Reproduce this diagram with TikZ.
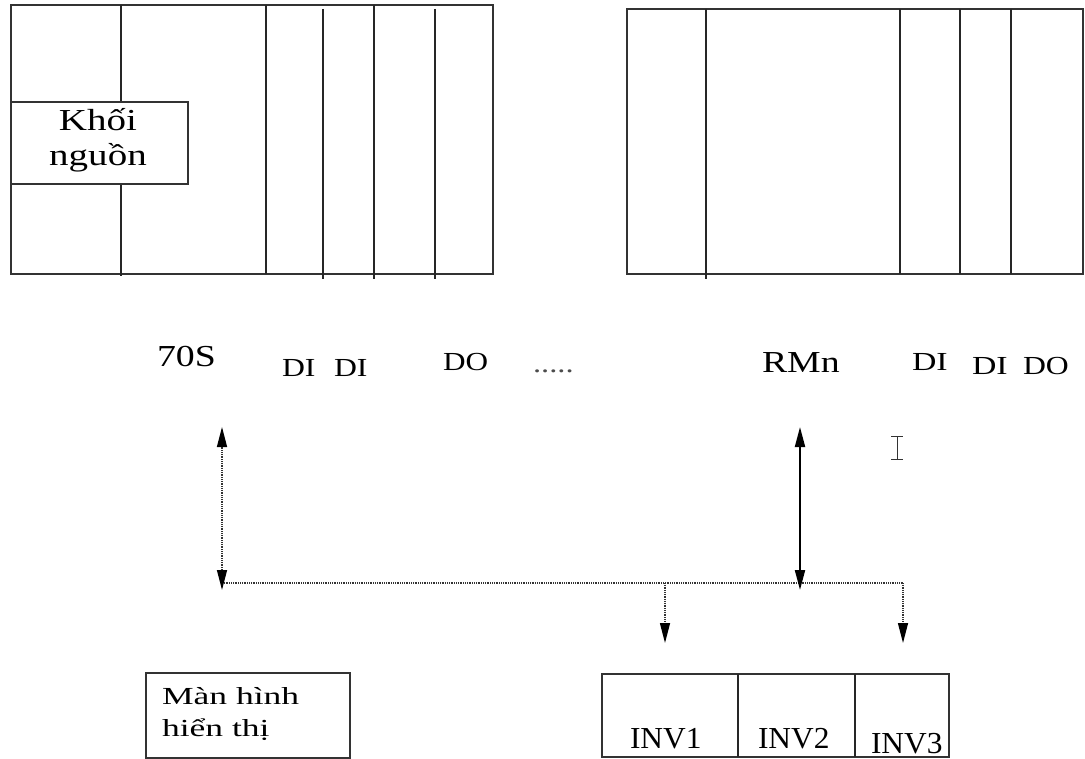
\documentclass[tikz,border=0pt]{standalone}
\usepackage{fontspec}
\setmainfont{Liberation Serif}
\usepackage{graphicx}
\usetikzlibrary{arrows.meta}

% horizontally widened text
\newcommand{\hwide}[2]{\scalebox{#1}[1]{#2}}

\tikzset{
  frame/.style={line width=1.5pt, draw=black!80},
  divider/.style={line width=1.5pt, draw=black!85},
  lbl/.style={inner sep=0pt, outer sep=0pt, anchor=base west, text=black},
  big/.style={font=\fontsize{30.5pt}{36pt}\selectfont},
  mid/.style={font=\fontsize{26pt}{32pt}\selectfont},
  busline/.style={line width=1.4pt, draw=black!80, dash pattern=on 1pt off 0.8pt},
  tiph/.style={{Triangle[length=20pt,width=10pt,color=black]}-{Triangle[length=20pt,width=10pt,color=black]}},
  tipe/.style={-{Triangle[length=20pt,width=10pt,color=black]}},
}

\begin{document}
\begin{tikzpicture}[x=1pt, y=-1pt]
\useasboundingbox[fill=white] (0,0) rectangle (1085,759);

% ---- left rack: power supply, CPU 70S and I/O modules ----
\draw[frame] (11,5) rectangle (493,274);
\draw[divider] (121,5) -- (121,102);
\draw[divider] (121,184) -- (121,276);
\draw[divider] (266,5) -- (266,274);
\draw[divider] (323,9) -- (323,279);
\draw[divider] (374,5) -- (374,279);
\draw[divider] (435,9) -- (435,279);
\draw[frame, fill=white] (11,102) rectangle (188,184);
\node[big, inner sep=0pt, anchor=base, align=center, text=black] (psu) at (98,166)
  {\hwide{1.28}{Khối}\\[-1pt]\hwide{1.28}{nguồn}};

% ---- right rack: remote module RMn and I/O modules ----
\draw[frame] (627,9) rectangle (1083,274);
\draw[divider] (706,9) -- (706,279);
\draw[divider] (900,9) -- (900,274);
\draw[divider] (960,9) -- (960,274);
\draw[divider] (1011,9) -- (1011,274);

% ---- module labels ----
\node[lbl, big] (l70s) at (157,367) {\hwide{1.24}{70S}};
\node[lbl, mid] (ldi1) at (282,377) {\hwide{1.22}{DI}};
\node[lbl, mid] (ldi2) at (334,377) {\hwide{1.22}{DI}};
\node[lbl, mid] (ldo)  at (443,371) {\hwide{1.2}{DO}};
\node[lbl, mid, text=black!70] (dots) at (533,373) {\hwide{1.25}{.....}};
\node[lbl, big] (lrmn) at (762,373) {\hwide{1.24}{RMn}};
\node[lbl, mid] (rdi1) at (912,371) {\hwide{1.3}{DI}};
\node[lbl, mid] (rdi2) at (972,375) {\hwide{1.3}{DI}};
\node[lbl, mid] (rdo)  at (1023,375) {\hwide{1.22}{DO}};

% text cursor mark
\draw[line width=1pt, black!80] (891,436) -- (903,436) (897,436) -- (897,459) (891,459) -- (903,459);

% ---- network bus ----
\coordinate (cpuTop) at (222,427);
\coordinate (cpuBot) at (222,590);
\coordinate (rmTop)  at (800,427);
\coordinate (rmBot)  at (800,590);
\coordinate (busL)   at (222,583);
\coordinate (busR)   at (903,583);
\coordinate (inv1Tap) at (665,583);
\coordinate (inv1Tip) at (665,643);
\coordinate (inv3Tip) at (903,643);

\draw[busline] (busL) -- (busR);
\draw[busline, tiph] (cpuTop) -- (cpuBot);
\draw[line width=2pt, black, tiph] (rmTop) -- (rmBot);
\draw[busline, tipe] (inv1Tap) -- (inv1Tip);
\draw[busline, tipe] (busR) -- (inv3Tip);

% ---- display panel ----
\draw[frame] (146,673) rectangle (350,758);
\node[lbl, font=\fontsize{24.5pt}{32pt}\selectfont, align=left] (hmi) at (162,736)
  {\hwide{1.45}{Màn hình}\\\hwide{1.45}{hiển thị}};

% ---- inverters ----
\draw[frame] (602,674) rectangle (949,757);
\draw[divider] (738,674) -- (738,757);
\draw[divider] (855,674) -- (855,757);
\node[lbl, big] (inv1) at (630,748) {\hwide{1.03}{INV1}};
\node[lbl, big] (inv2) at (758,748) {\hwide{1.03}{INV2}};
\node[lbl, big] (inv3) at (871,753) {\hwide{1.03}{INV3}};
\end{tikzpicture}
\end{document}
